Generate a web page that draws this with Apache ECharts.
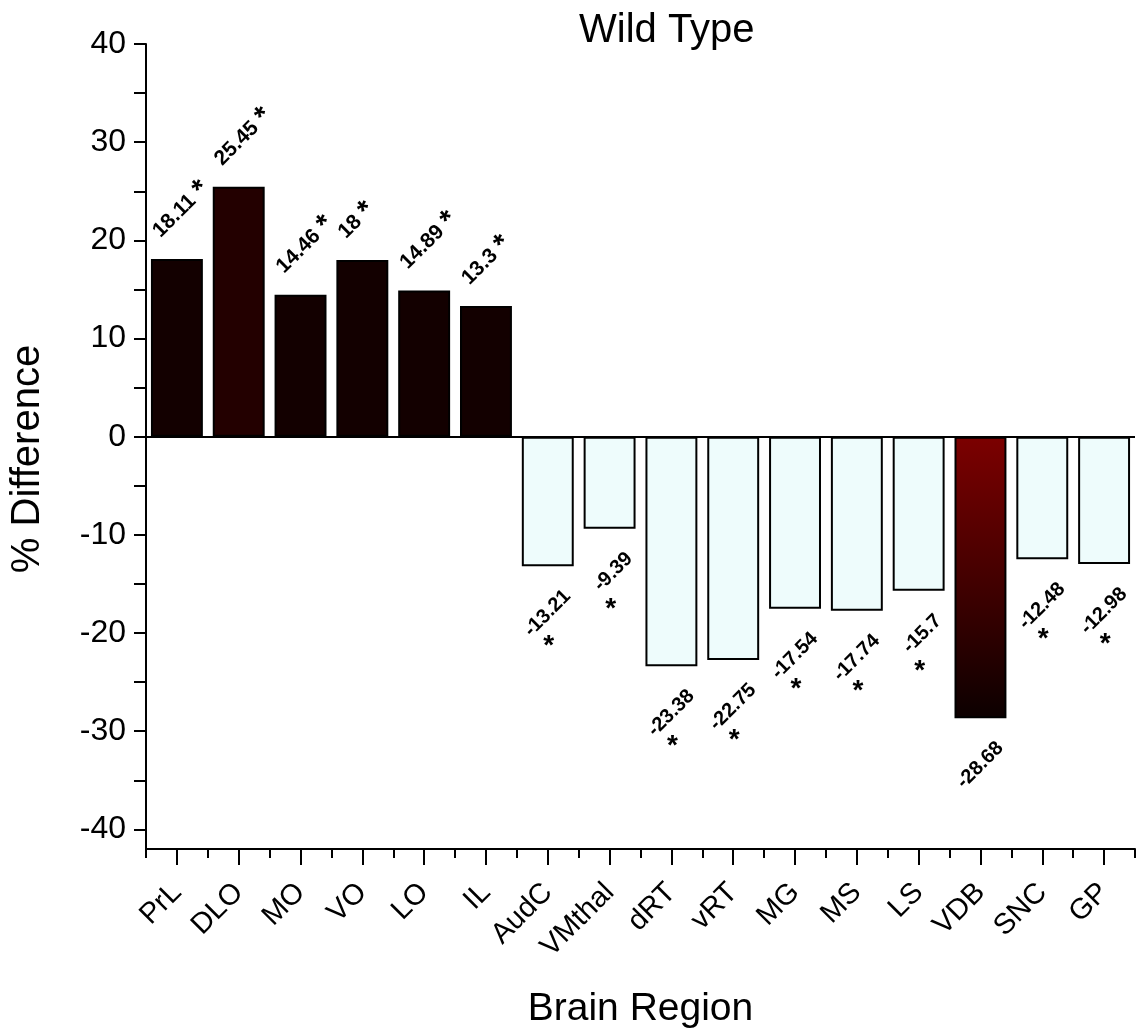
<!DOCTYPE html>
<html><head><meta charset="utf-8">
<script src="https://cdn.jsdelivr.net/npm/echarts@6/dist/echarts.min.js"></script>
<style>html,body{margin:0;padding:0;background:#fff}#c{width:1138px;height:1034px}</style>
</head><body><div id="c"></div>
<script>
const regions = ['PrL','DLO','MO','VO','LO','IL','AudC','VMthal','dRT','vRT','MG','MS','LS','VDB','SNC','GP'];
const pctDiff = [18.11, 25.45, 14.46, 18, 14.89, 13.3, -13.21, -9.39, -23.38, -22.75, -17.54, -17.74, -15.7, -28.68, -12.48, -12.98];
const significant = [true, true, true, true, true, true, true, true, true, true, true, true, true, false, true, true];
const yLabelValues = [-40, -30, -20, -10, 0, 10, 20, 30, 40];
const yTickValues = [-40, -35, -30, -25, -20, -15, -10, -5, 0, 5, 10, 15, 20, 25, 30, 35, 40];

const FONT = '"Liberation Sans", Arial, sans-serif';
const vdbGradient = new echarts.graphic.LinearGradient(0, 0, 0, 1, [
  { offset: 0, color: '#7c0000' }, { offset: 1, color: '#0c0000' }
]);
function fillFor(v) {
  if (v >= 25) return '#230000';
  if (v > 0) return '#130000';
  if (v < -25) return vdbGradient;
  return '#eefcfc';
}
const posLabel = {
  show: true, position: 'top', distance: 0, rotate: 45, align: 'left', verticalAlign: 'middle',
  offset: [3, -32],
  formatter: p => significant[p.dataIndex] ? '{n|' + p.value + '} {s|*}' : '{n|' + p.value + '}',
  rich: {
    n: { fontSize: 21, fontWeight: 'bold', color: '#000', fontFamily: FONT },
    s: { fontSize: 29, fontWeight: 'bold', color: '#000', fontFamily: FONT, padding: [0, 0, 0, 3] }
  }
};
const negLabel = {
  show: true, position: 'bottom', distance: 0, rotate: 45, align: 'right', verticalAlign: 'middle',
  offset: [-5, 33], fontSize: 20, fontWeight: 'bold', color: '#000', fontFamily: FONT,
  formatter: p => String(p.value)
};

const chart = echarts.init(document.getElementById('c'), null, { renderer: 'canvas' });
chart.setOption({
  animation: false,
  backgroundColor: '#fff',
  title: {
    text: 'Wild Type', left: 574, top: 6,
    textStyle: { fontSize: 40, fontWeight: 'normal', color: '#000', fontFamily: FONT }
  },
  graphic: [{
    type: 'text', x: 28, y: 459, rotation: Math.PI / 2,
    style: {
      text: '% Difference', fontSize: 40, fill: '#000', fontFamily: FONT,
      align: 'center', verticalAlign: 'middle'
    }
  }],
  grid: { left: 146, right: 3, top: 44, bottom: 185, containLabel: false, outerBoundsMode: 'none' },
  xAxis: [{
    type: 'category', data: regions, position: 'bottom',
    axisLine: { show: true, onZero: false, lineStyle: { color: '#000', width: 2 } },
    axisTick: { show: true, alignWithLabel: true, length: 16, lineStyle: { color: '#000', width: 2 } },
    axisLabel: { rotate: 45, fontSize: 29, color: '#000', margin: 39, fontFamily: FONT, interval: 0 },
    splitLine: { show: false },
    name: 'Brain Region', nameLocation: 'middle', nameGap: 141,
    nameTextStyle: { fontSize: 39, color: '#000', fontFamily: FONT }
  }, {
    type: 'category', data: regions, position: 'bottom',
    axisLine: { show: false, onZero: false },
    axisTick: { show: true, length: 9, interval: 0, lineStyle: { color: '#000', width: 2 } },
    axisLabel: { show: false },
    splitLine: { show: false }
  }],
  yAxis: {
    type: 'value', min: -42, max: 40,
    axisLine: { show: true, onZero: false, lineStyle: { color: '#000', width: 2 } },
    axisTick: { show: true, length: 12, customValues: yTickValues, lineStyle: { color: '#000', width: 2 } },
    axisLabel: { customValues: yLabelValues, fontSize: 32, margin: 20, color: '#000', fontFamily: FONT },
    splitLine: { show: false }
  },
  series: [{
    type: 'bar', xAxisIndex: 0, barCategoryGap: '16%', barGap: '-100%',
    data: pctDiff.map((v, i) => ({
      value: v,
      itemStyle: { color: fillFor(v), borderColor: '#000', borderWidth: 2 },
      label: v > 0 ? posLabel : negLabel
    })),
    markLine: {
      silent: true, symbol: ['none', 'none'],
      lineStyle: { color: '#000', width: 2, type: 'solid' },
      label: { show: false },
      data: [{ yAxis: 0 }]
    }
  }, {
    type: 'bar', xAxisIndex: 0, barCategoryGap: '16%', barGap: '-100%', silent: true,
    itemStyle: { color: 'rgba(0,0,0,0)', borderWidth: 0 },
    data: pctDiff.map((v, i) => ({
      value: v,
      label: {
        show: v < 0 && significant[i], position: 'bottom', distance: 0,
        align: 'center', verticalAlign: 'middle', offset: [1, 80],
        fontSize: 28, fontWeight: 'bold', color: '#000', fontFamily: FONT,
        formatter: '*'
      }
    }))
  }]
});
</script></body></html>
